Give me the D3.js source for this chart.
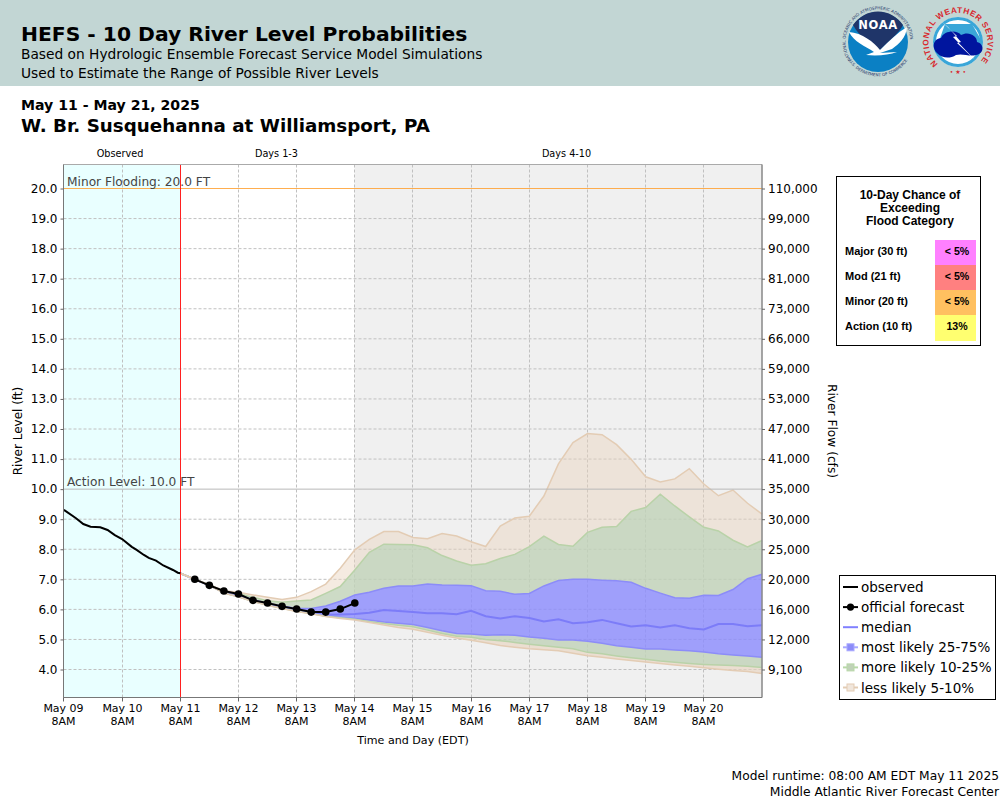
<!DOCTYPE html>
<html><head><meta charset="utf-8">
<script src="https://cdn.jsdelivr.net/npm/d3@7"></script>
<style>html,body{margin:0;padding:0;background:#fff}svg{display:block}text{font-family:"DejaVu Sans",sans-serif;fill:#000}</style>
</head><body><div id="c"></div>
<script>
const obsHours=[0,5.5,8,11,15,18.5,21,24,28,30,33,35,38,41,45,47,48];
const observed=[9.31,9.03,8.84,8.75,8.73,8.64,8.47,8.34,8.08,7.98,7.81,7.71,7.62,7.46,7.31,7.22,7.2];
const official=[7.0,6.8,6.61,6.51,6.3,6.21,6.1,6.01,5.91,5.91,6.01,6.21];
const p95=[7.2,7.0,6.82,6.62,6.57,6.48,6.4,6.33,6.4,6.59,6.84,7.37,7.98,8.33,8.59,8.59,8.39,8.35,8.52,8.44,8.25,8.09,8.77,9.04,9.1,9.77,10.84,11.55,11.85,11.81,11.48,10.99,10.41,10.24,10.34,10.68,10.17,9.78,9.97,9.53,9.17];
const p90=[7.2,7.0,6.82,6.59,6.53,6.4,6.29,6.24,6.28,6.31,6.53,6.76,7.31,7.9,8.17,8.16,8.15,8.05,7.79,7.61,7.47,7.52,7.69,7.83,8.09,8.44,8.16,8.1,8.56,8.73,8.76,9.26,9.39,9.83,9.44,9.08,8.73,8.61,8.3,8.08,8.29];
const p75=[7.2,7.0,6.8,6.56,6.48,6.33,6.2,6.11,6.03,6.03,6.11,6.27,6.48,6.57,6.7,6.78,6.78,6.84,6.81,6.8,6.79,6.62,6.6,6.5,6.53,6.78,6.96,7.0,7.0,6.97,6.95,6.9,6.7,6.54,6.39,6.37,6.47,6.46,6.66,7.02,7.17];
const p50=[7.2,7.0,6.8,6.58,6.45,6.28,6.17,6.07,5.97,5.88,5.82,5.83,5.85,5.89,5.98,5.95,5.91,5.87,5.87,5.84,5.95,5.77,5.7,5.77,5.71,5.6,5.67,5.54,5.57,5.65,5.54,5.43,5.47,5.4,5.47,5.37,5.33,5.51,5.51,5.44,5.47];
const p25=[7.2,7.0,6.8,6.55,6.43,6.27,6.15,6.05,5.95,5.87,5.78,5.74,5.7,5.65,5.58,5.54,5.5,5.4,5.29,5.2,5.18,5.14,5.16,5.14,5.08,5.04,4.98,4.98,4.94,4.87,4.79,4.74,4.68,4.68,4.65,4.62,4.58,4.52,4.48,4.45,4.41];
const p10=[7.2,7.0,6.8,6.54,6.42,6.26,6.14,6.04,5.94,5.86,5.77,5.72,5.67,5.59,5.53,5.47,5.42,5.31,5.2,5.11,5.07,5.0,4.96,4.9,4.84,4.79,4.74,4.69,4.57,4.52,4.45,4.39,4.34,4.28,4.24,4.2,4.17,4.15,4.13,4.11,4.07];
const p05=[7.2,7.0,6.8,6.54,6.42,6.26,6.14,6.03,5.93,5.85,5.76,5.7,5.65,5.56,5.48,5.4,5.34,5.24,5.14,5.05,4.97,4.89,4.8,4.74,4.69,4.66,4.62,4.54,4.46,4.41,4.35,4.3,4.25,4.2,4.15,4.11,4.06,4.01,3.97,3.93,3.87];
const stageTicks=[4,5,6,7,8,9,10,11,12,13,14,15,16,17,18,19,20];
const flowLabels=["9,100","12,000","16,000","20,000","25,000","30,000","35,000","41,000","47,000","53,000","59,000","66,000","73,000","81,000","90,000","99,000","110,000"];
const dayLabels=["May 09","May 10","May 11","May 12","May 13","May 14","May 15","May 16","May 17","May 18","May 19","May 20"];
const floodCats=["Major (30 ft)","Mod (21 ft)","Minor (20 ft)","Action (10 ft)"];
const floodChance=["< 5%","< 5%","< 5%","13%"];
const floodColors=["#ff80ff","#ff8080","#ffc060","#ffff70"];
const legendLabels=["observed","official forecast","median","most likely 25-75%","more likely 10-25%","less likely 5-10%"];

const svg=d3.select("#c").append("svg").attr("width",1000).attr("height",800);
const t0=Date.UTC(2025,4,9,8), hr=d3.utcHour.offset;
const fcStart=hr(new Date(t0),48);
const x=d3.scaleUtc().domain([new Date(t0),hr(new Date(t0),288)]).range([63.9,762.06]);
const y=d3.scaleLinear().domain([4,20]).range([669.5,188.5]);
const pTop=164.5,bot=697.5,L=63.5,R=762;
const fcT=i=>hr(fcStart,6*i);
const snap=d=>Math.floor(x(d))+.5;

// header
svg.append("rect").attr("width",1000).attr("height",86).attr("fill","#c2d6d4");
const T=(s,px,py,size,w,anchor)=>svg.append("text").attr("x",px).attr("y",py).attr("font-size",size).attr("font-weight",w||"normal").attr("text-anchor",anchor||"start").text(s);
T("HEFS - 10 Day River Level Probabilities",21,41,20.3,"bold");
T("Based on Hydrologic Ensemble Forecast Service Model Simulations",21,59,13.75);
T("Used to Estimate the Range of Possible River Levels",21,78,13.75);
T("May 11 - May 21, 2025",21,110,14.1,"bold");
T("W. Br. Susquehanna at Williamsport, PA",21,132,18.3,"bold");

// logos
const defs=svg.append("defs");
defs.append("path").attr("id","ringN").attr("d","M851 60 A32.5 32.5 0 1 1 905 60");
defs.append("path").attr("id","ringS").attr("d","M849 61 A35 35 0 0 0 907 61");
defs.append("path").attr("id","ringW").attr("d","M938 64 A29.5 29.5 0 1 1 978 64");
function logos(){
 const n=svg.append("g");
 n.append("circle").attr("cx",878).attr("cy",42).attr("r",30).attr("fill","#0b80c4");
 n.append("path").attr("d","M853 25 A30 30 0 0 1 903 25 C900 32 892 38 880 50 C870 42 860 38 853 25Z").attr("fill","#1f3569");
 n.append("path").attr("d","M849 32 C862 33 874 42 880 50 C889 41 897 33 907 27 C906 38 899 44 892 49 L880 53 L897 52 C889 55 878 56 866 55 L874 52 C865 46 854 42 849 32Z").attr("fill","#fff");
 n.append("text").attr("x",878).attr("y",29).attr("text-anchor","middle").attr("font-size",11.5).attr("font-weight","bold").style("fill","#fff").attr("letter-spacing",.6).text("NOAA");
 n.append("text").attr("font-size",4.1).style("fill","#1f3569").append("textPath").attr("href","#ringN").text("NATIONAL OCEANIC AND ATMOSPHERIC ADMINISTRATION");
 n.append("text").attr("font-size",4.1).style("fill","#1f3569").append("textPath").attr("href","#ringS").text("U.S. DEPARTMENT OF COMMERCE");
 const w=svg.append("g");
 w.append("circle").attr("cx",958).attr("cy",42).attr("r",25).attr("fill","#fff");
 w.append("circle").attr("cx",958).attr("cy",42).attr("r",23.5).attr("fill","none").attr("stroke","#3aa6d8").attr("stroke-width",3);
 w.append("path").attr("d","M945 24 L972 24 L980 38 L982 44 L938 44 Z").attr("fill","#3aa6d8");
 w.append("path").attr("d","M938 54 C931 48 933 39 941 38 C944 30 958 30 961 35 C968 31 977 35 977 42 C985 44 984 54 976 55 C969 57 963 53 956 55 C950 59 942 58 938 54Z").attr("fill","#00159e");
 w.append("path").attr("d","M941 21 L957 36 L953 37 L975 60 L957 43 L961 42 L948 27Z").attr("fill","#fff");
 w.append("text").attr("font-size",8.2).attr("font-weight","bold").style("font-family","Liberation Sans").attr("letter-spacing",.6).style("fill","#d8282e").append("textPath").attr("href","#ringW").text("NATIONAL WEATHER SERVICE");
 w.append("text").attr("x",958).attr("y",74).attr("text-anchor","middle").attr("font-size",6).style("fill","#d8282e").text("• ★ •");
}
logos();

// plot backgrounds
svg.append("rect").attr("x",L).attr("y",pTop).attr("width",snap(fcStart)-L).attr("height",bot-pTop).attr("fill","#e9ffff");
svg.append("rect").attr("x",snap(fcT(12))).attr("y",pTop).attr("width",R-snap(fcT(12))).attr("height",bot-pTop).attr("fill","#f0f0f0");

// grid
const dayTicks=dayLabels.map((d,i)=>hr(new Date(t0),24*i));
const grid=svg.append("g").attr("stroke","#c0c0c0").attr("stroke-width",1).attr("stroke-dasharray","3,2");
grid.selectAll(".h").data(stageTicks.filter(v=>v!==10&&v!==20)).join("line").attr("x1",L).attr("x2",R).attr("y1",d=>y(d)).attr("y2",d=>y(d));
grid.selectAll(".v").data(dayTicks.slice(1)).join("line").attr("x1",snap).attr("x2",snap).attr("y1",pTop).attr("y2",bot);

// bands
const idx=d3.range(p95.length);
const area=(a,b)=>d3.area().x(i=>x(fcT(i))).y0(i=>y(a[i])).y1(i=>y(b[i]))(idx);
const line=a=>d3.line().x(i=>x(fcT(i))).y(i=>y(a[i]))(idx);
const tan="#e8d2bc",blue="#8c8cfc";
const bands=svg.append("g");
bands.append("path").attr("d",area(p90,p95)).attr("fill",tan).attr("fill-opacity",.45);
bands.append("path").attr("d",area(p05,p10)).attr("fill",tan).attr("fill-opacity",.6);
bands.append("path").attr("d",area(p75,p90)).attr("fill","#c0d2b8").attr("fill-opacity",.8);
bands.append("path").attr("d",area(p10,p25)).attr("fill","#c0d2b8").attr("fill-opacity",.8);
bands.append("path").attr("d",area(p25,p75)).attr("fill",blue).attr("fill-opacity",.82);
bands.append("path").attr("d",line(p50)).attr("fill","none").attr("stroke","#7c7cf8").attr("stroke-width",2);
[[p75,"#8c8cf8"],[p25,"#8c8cf8"],[p90,"#b9d2a8"],[p10,"#b9d2a8"],[p95,"#e3ccb4"],[p05,"#e3ccb4"]].forEach(([a,c])=>
 bands.append("path").attr("d",line(a)).attr("fill","none").attr("stroke",c).attr("stroke-width",1.5));

// flood levels
svg.append("line").attr("x1",L).attr("x2",R).attr("y1",y(10)).attr("y2",y(10)).attr("stroke","#b8b8b8");
svg.append("line").attr("x1",L).attr("x2",R).attr("y1",y(20)).attr("y2",y(20)).attr("stroke","#ffa030").attr("stroke-opacity",.85);
svg.append("text").attr("x",67).attr("y",y(20)-2.5).attr("font-size",12.2).style("fill","#444").text("Minor Flooding: 20.0 FT");
svg.append("text").attr("x",67).attr("y",y(10)-3.5).attr("font-size",12.2).style("fill","#444").text("Action Level: 10.0 FT");
svg.append("line").attr("x1",snap(fcStart)).attr("x2",snap(fcStart)).attr("y1",pTop).attr("y2",bot).attr("stroke","#ff2020");

// observed & official
svg.append("path").attr("d",d3.line().x((d,i)=>x(hr(new Date(t0),obsHours[i]))).y(d=>y(d))(observed)).attr("fill","none").attr("stroke","#000").attr("stroke-width",2);
const ox=(d,i)=>x(fcT(i+1));
svg.append("path").attr("d",d3.line().x(ox).y(d=>y(d))(official)).attr("fill","none").attr("stroke","#000").attr("stroke-width",2);
svg.append("g").selectAll("circle").data(official).join("circle").attr("cx",ox).attr("cy",d=>y(d)).attr("r",3.8).attr("fill","#000");

// frame
svg.append("path").attr("d",`M${L} ${bot}V${pTop}H${R}V${bot}Z`).attr("fill","none").attr("stroke","#aaa");
svg.append("line").attr("x1",L).attr("x2",R).attr("y1",bot).attr("y2",bot).attr("stroke","#777");
svg.append("line").attr("x1",L).attr("x2",L).attr("y1",pTop).attr("y2",bot).attr("stroke","#777");
svg.append("line").attr("x1",R).attr("x2",R).attr("y1",pTop).attr("y2",bot).attr("stroke","#777");

// axes
const styleAxis=g=>{g.select(".domain").remove();g.selectAll("line").attr("stroke","#666");};
svg.append("g").attr("transform",`translate(${L},0)`).call(d3.axisLeft(y).tickValues(stageTicks).tickSize(3).tickPadding(3).tickFormat(d3.format(".1f"))).call(styleAxis).selectAll("text").attr("font-size",12).attr("font-family","DejaVu Sans");
svg.append("g").attr("transform",`translate(${R},0)`).call(d3.axisRight(y).tickValues(stageTicks).tickSize(3).tickPadding(3).tickFormat((d,i)=>flowLabels[i])).call(styleAxis).selectAll("text").attr("font-size",12).attr("font-family","DejaVu Sans");
const xg=svg.append("g").attr("transform",`translate(0,${bot})`).call(d3.axisBottom(x).tickValues(dayTicks).tickSize(4).tickFormat(()=>"")).call(styleAxis);
xg.selectAll(".tick").attr("transform",d=>`translate(${snap(d)},0)`);
xg.selectAll(".tick line").attr("x1",0).attr("x2",0);
xg.selectAll(".tick text").each(function(d,i){
 const s=d3.select(this).attr("font-size",11).attr("font-family","DejaVu Sans").attr("y",5).attr("dy",0);
 s.append("tspan").attr("x",0).attr("dy","0.9em").text(dayLabels[i]);
 s.append("tspan").attr("x",0).attr("dy","1.1em").text("8AM");
});
T("Observed",120,157,9.7,"normal","middle");
T("Days 1-3",276.5,157,9.7,"normal","middle");
T("Days 4-10",566.5,157,9.7,"normal","middle");
T("Time and Day (EDT)",413,744,11.1,"normal","middle");
svg.append("text").attr("transform","translate(22,431) rotate(-90)").attr("text-anchor","middle").attr("font-size",12).text("River Level (ft)");
svg.append("text").attr("transform","translate(828,431) rotate(90)").attr("text-anchor","middle").attr("font-size",12.2).text("River Flow (cfs)");

// flood category box
const fb=svg.append("g");
fb.append("rect").attr("x",836.5).attr("y",176.5).attr("width",144).attr("height",169).attr("fill","#fff").attr("stroke","#000");
["10-Day Chance of","Exceeding","Flood Category"].forEach((s,i)=>fb.append("text").attr("x",910).attr("y",199+i*13).attr("text-anchor","middle").attr("font-size",12).attr("font-weight","bold").style("font-family","Liberation Sans").text(s));
const rowY=[240,265,290,315], rowH=[25,25,25,26];
floodCats.forEach((c,i)=>{
 fb.append("rect").attr("x",935).attr("y",rowY[i]).attr("width",41).attr("height",rowH[i]).attr("fill",floodColors[i]);
 fb.append("text").attr("x",845).attr("y",rowY[i]+15).attr("font-size",11).attr("font-weight","bold").style("font-family","Liberation Sans").text(c);
 fb.append("text").attr("x",957).attr("y",rowY[i]+15).attr("text-anchor","middle").attr("font-size",10.6).attr("font-weight","bold").style("font-family","Liberation Sans").text(floodChance[i]);
});

// legend
const lg=svg.append("g");
lg.append("rect").attr("x",839.5).attr("y",575.5).attr("width",156).attr("height",124).attr("fill","#fff").attr("stroke","#000");
const lc=[["#000",null],["#000","dot"],["#8080ff",null],["#a8a8ff","#8c8cf8"],["#b8d8a8","#c0d2b8"],["#e3ccb4","#f0e6dc"]];
legendLabels.forEach((s,i)=>{
 const yy=587+i*20.1;
 lg.append("line").attr("x1",843).attr("x2",858).attr("y1",yy).attr("y2",yy).attr("stroke",lc[i][0]).attr("stroke-width",2);
 if(lc[i][1]==="dot") lg.append("circle").attr("cx",850.5).attr("cy",yy).attr("r",3.6).attr("fill","#000");
 else if(lc[i][1]) lg.append("rect").attr("x",847).attr("y",yy-3.5).attr("width",7).attr("height",7).attr("fill",lc[i][1]).attr("stroke",lc[i][0]);
 lg.append("text").attr("x",861).attr("y",yy+5).attr("font-size",13.5).text(s);
});

T("Model runtime: 08:00 AM EDT May 11 2025",999,780,12.25,"normal","end");
T("Middle Atlantic River Forecast Center",999,796,12.35,"normal","end");
</script></body></html>
